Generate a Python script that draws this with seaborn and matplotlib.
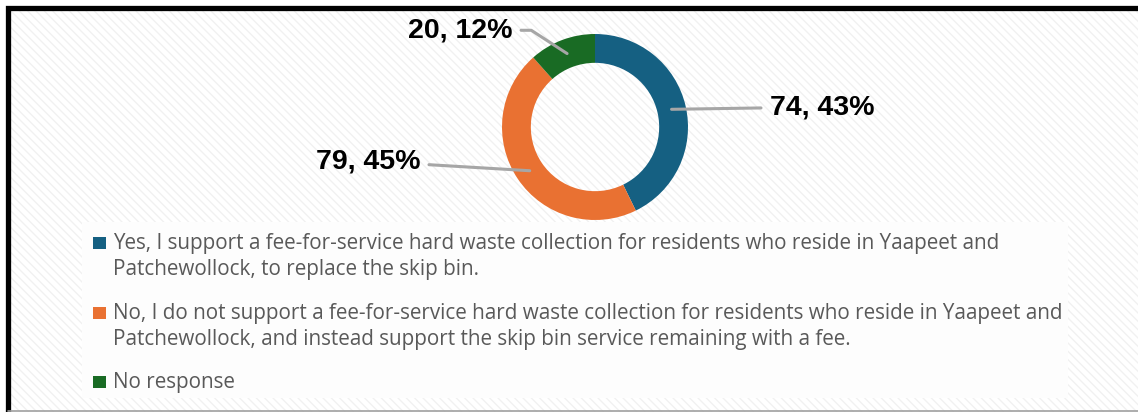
import matplotlib
matplotlib.use("Agg")
import numpy as np
import matplotlib.pyplot as plt
import seaborn as sns
from matplotlib.patches import Rectangle
from matplotlib.lines import Line2D

# Données
categories = [
    "Yes, I support a fee-for-service hard waste collection for residents who reside in Yaapeet and\nPatchewollock, to replace the skip bin.",
    "No, I do not support a fee-for-service hard waste collection for residents who reside in Yaapeet and\nPatchewollock, and instead support the skip bin service remaining with a fee.",
    "No response",
]
counts = [74, 79, 20]
percents = [43, 45, 12]
colours = ["#156082", "#E97132", "#196B24"]

# position des étiquettes (unités du rayon de l'anneau)
label_xy = [(1.88, 0.215), (-1.88, -0.366), (-0.89, 1.04)]

sns.set_theme(style="white")
plt.rcParams["font.family"] = ["Open Sans", "DejaVu Sans"]
plt.rcParams["hatch.linewidth"] = 1.0

W, H = 1138, 412
fig = plt.figure(figsize=(W / 100, H / 100), dpi=100)


def fx(px):
    return px / W


def fy(py):
    return 1 - py / H


# fond hachuré + cadre noir
fig.add_artist(Rectangle((fx(7.5), fy(440)), fx(1200), (440 - 7.5) / H,
                         transform=fig.transFigure, facecolor="white",
                         edgecolor="#f1f1f1", hatch="\\\\\\\\", linewidth=0, zorder=0))
fig.add_artist(Rectangle((fx(7.5), fy(440)), fx(1200), (440 - 7.5) / H,
                         transform=fig.transFigure, facecolor="none",
                         edgecolor="black", linewidth=3.8, zorder=1))
fig.add_artist(Line2D([fx(7.5), 1], [fy(410.5), fy(410.5)], transform=fig.transFigure,
                      color="#a0a0a0", linewidth=1.2, zorder=1))

# anneau
cx, cy, R = 595, 127, 93
ax = fig.add_axes([fx(cx - R), fy(cy + R), 2 * R / W, 2 * R / H])
wedges, _ = ax.pie(counts, colors=colours, startangle=90, counterclock=False, radius=1,
                   wedgeprops=dict(width=0.31, edgecolor="none"))
ax.set_xlim(-1, 1)
ax.set_ylim(-1, 1)
ax.axis("off")

for w, n, p, (tx, ty) in zip(wedges, counts, percents, label_xy):
    ang = np.deg2rad((w.theta1 + w.theta2) / 2)
    r = 1 - 0.31 / 2
    xy = (r * np.cos(ang), r * np.sin(ang))
    ha = "left" if tx > 0 else "right"
    conn = "arc3"
    if ty > 0.9:
        conn = "angle,angleA=0,angleB=147,rad=0"
    ax.annotate(f"{n}, {p}%", xy=xy, xytext=(tx, ty), ha=ha, va="center",
                fontsize=20.5, fontweight="bold", family="Liberation Sans", color="black",
                annotation_clip=False,
                arrowprops=dict(arrowstyle="-", color="#a6a6a6", lw=2.2,
                                shrinkA=4, shrinkB=0, connectionstyle=conn))

# légende
fig.add_artist(Rectangle((fx(82), fy(398)), fx(1068 - 82), (398 - 222) / H,
                         transform=fig.transFigure, facecolor="#fdfdfd",
                         edgecolor="none", zorder=1))
base = 249
for lab, col in zip(categories, colours):
    lines = lab.split("\n")
    fig.add_artist(Rectangle((fx(93), fy(base)), fx(13), 12 / H,
                             transform=fig.transFigure, facecolor=col,
                             edgecolor="none", zorder=2))
    for k, line in enumerate(lines):
        fig.text(fx(113), fy(base + 26 * k), line, fontsize=14.9, color="#595959",
                 va="baseline", ha="left", zorder=3)
    base += 26 * (len(lines) - 1) + 43.5

fig.savefig("out.png", dpi=100)
